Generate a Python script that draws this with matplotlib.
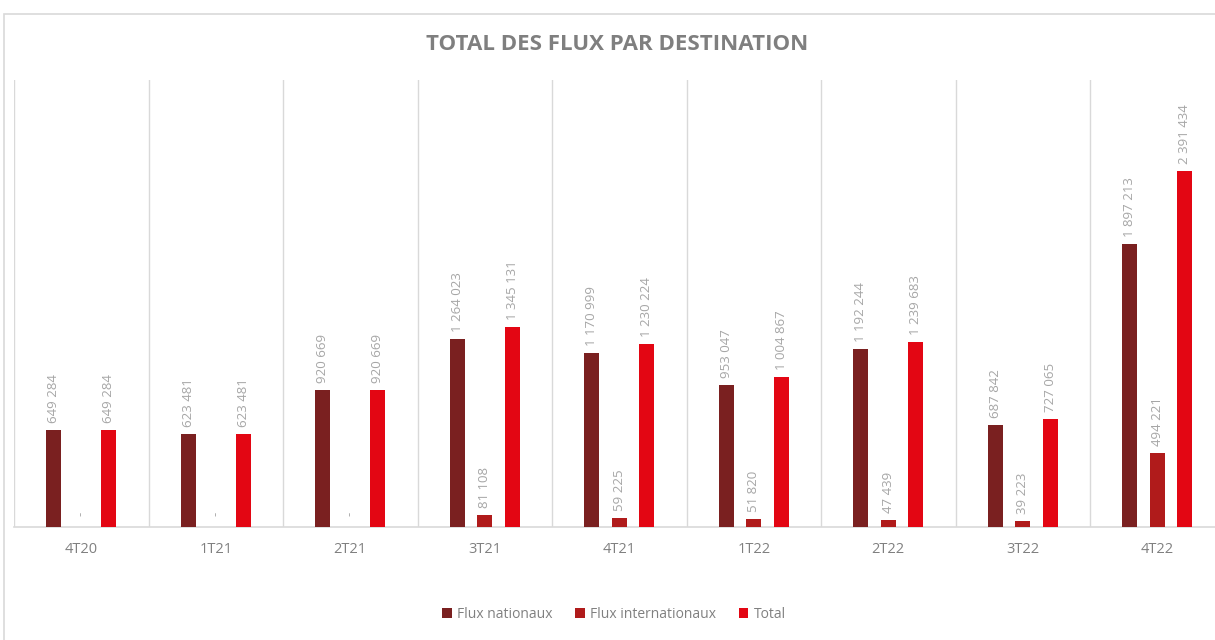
import matplotlib
matplotlib.use("Agg")
import matplotlib.pyplot as plt
from matplotlib.patches import Rectangle
import numpy as np

categories = ["4T20", "1T21", "2T21", "3T21", "4T21", "1T22", "2T22", "3T22", "4T22"]
flux_nationaux = [649284, 623481, 920669, 1264023, 1170999, 953047, 1192244, 687842, 1897213]
flux_internationaux = [0, 0, 0, 81108, 59225, 51820, 47439, 39223, 494221]
total = [649284, 623481, 920669, 1345131, 1230224, 1004867, 1239683, 727065, 2391434]
series_names = ["Flux nationaux", "Flux internationaux", "Total"]
colors = ["#7a2020", "#b01b1b", "#e30613"]

plt.rcParams['font.family'] = ['Open Sans', 'DejaVu Sans']

fig = plt.figure(figsize=(12.15, 6.4), dpi=100)
W, H = 1215, 640
ax = fig.add_axes([14 / W, 1 - 527 / H, 1210.5 / W, (527 - 80) / H])

# chart frame
fig.patches.append(Rectangle((4 / W, -0.01), 1.0, 1 - 14 / H + 0.01, transform=fig.transFigure,
                             fill=False, edgecolor="#d9d9d9", linewidth=1.2, zorder=0))

x = np.arange(len(categories))
w = 0.11
offs = [-0.205, 0.0, 0.205]
data = [flux_nationaux, flux_internationaux, total]

def fmt(v):
    if v == 0:
        return "-"
    return f"{v:,}".replace(",", " ")

for s, (vals, c, name) in enumerate(zip(data, colors, series_names)):
    ax.bar(x + offs[s], vals, width=w, color=c, label=name, zorder=3)
    for xi, v in zip(x + offs[s], vals):
        ax.annotate(fmt(v), (xi, v), xytext=(0, 5 if v else 8), textcoords="offset points",
                    rotation=90, ha="center", va="bottom", fontsize=9.5, color="#a6a6a6")

ax.set_xlim(-0.5, len(categories) - 0.5)
ax.set_ylim(0, 3000000)
ax.set_yticks([])
ax.set_xticks(x)
ax.set_xticklabels(categories, fontsize=10.5, color="#808080")
ax.tick_params(axis="x", length=0, pad=11)
ax.set_xticks(np.arange(-0.5, len(categories) + 0.5, 1), minor=True)
ax.tick_params(axis="x", which="minor", length=0)
ax.grid(axis="x", which="minor", color="#d9d9d9", linewidth=1, zorder=0)
for sp in ["top", "right", "left"]:
    ax.spines[sp].set_visible(False)
ax.spines["bottom"].set_color("#d9d9d9")
ax.spines["bottom"].set_linewidth(1.2)

fig.text(617 / W, 1 - 44 / H, "TOTAL DES FLUX PAR DESTINATION", ha="center", va="center",
         fontsize=16, fontweight="bold", color="#7f7f7f")

leg = fig.legend(loc="center", bbox_to_anchor=(614 / W, 1 - 614 / H), ncol=3, frameon=False,
                 fontsize=10, handlelength=0.7, handleheight=0.7, handletextpad=0.4,
                 columnspacing=1.6)
for t in leg.get_texts():
    t.set_color("#808080")

fig.savefig("out.png", dpi=100)
